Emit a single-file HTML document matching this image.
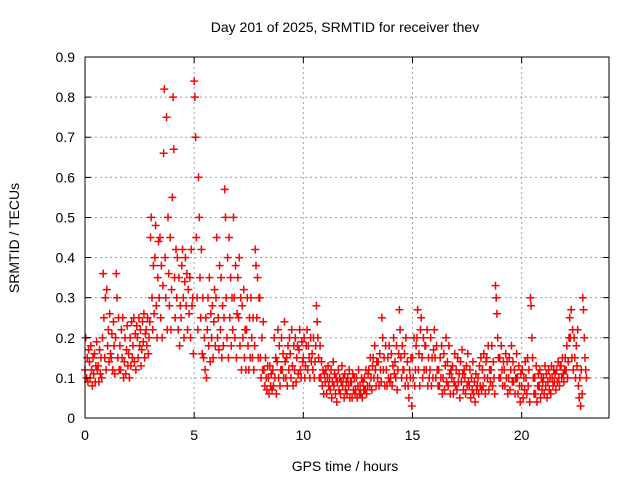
<!DOCTYPE html>
<html><head><meta charset="utf-8"><style>
body{margin:0;background:#fff}
svg{display:block;font-family:"Liberation Sans",sans-serif}
</style></head><body>
<svg id="chart" width="640" height="480">
<rect width="640" height="480" fill="#fff"/>
<g id="grid"></g>
<g id="points"></g>
<rect x="85" y="57" width="524" height="361" fill="none" stroke="#000" stroke-width="1"/>
<g id="ticks"></g>
<text x="345" y="32" text-anchor="middle" font-size="14">Day 201 of 2025, SRMTID for receiver thev</text>
<text x="345" y="471" text-anchor="middle" font-size="14">GPS time / hours</text>
<text x="19" y="238" text-anchor="middle" font-size="14" transform="rotate(-90 19 238)">SRMTID / TECUs</text>
</svg>
<script>
const binHours=[];for(let i=0;i<115;i++)binHours.push(+(i*0.2).toFixed(1));
const xTicks=[0,5,10,15,20];
const yTicks=[0,0.1,0.2,0.3,0.4,0.5,0.6,0.7,0.8,0.9];
const yTickLabels=["0","0.1","0.2","0.3","0.4","0.5","0.6","0.7","0.8","0.9"];
const samples=[
[.12,.2,.1,.15,.09,.17],[.14,.1,.18,.12,.08,.15],[.11,.16,.09,.13,.19,.12],[.13,.09,.17,.11,.15,.1],
[.2,.36,.25,.15,.3,.12],[.32,.18,.22,.14,.26,.16],[.15,.21,.12,.24,.18,.11],[.2,.36,.3,.15,.25,.12],
[.18,.12,.22,.15,.25,.1],[.14,.2,.11,.17,.23,.13],[.16,.1,.2,.13,.24,.15],[.18,.25,.14,.21,.12,.23],
[.2,.15,.25,.18,.22,.13],[.17,.24,.19,.26,.15,.21],[.22,.18,.25,.16,.2,.24],[.45,.5,.3,.22,.38,.26],
[.4,.48,.28,.2,.35,.44],[.3,.45,.25,.38,.2,.33],[.66,.82,.4,.3,.75,.22],[.5,.36,.28,.45,.22,.32],
[.55,.8,.67,.35,.25,.42],[.3,.4,.22,.35,.18,.28],[.25,.38,.42,.3,.2,.34],[.4,.28,.36,.22,.32,.26],
[.35,.2,.42,.28,.3,.16],[.84,.8,.7,.45,.3,.22],[.6,.5,.35,.25,.42,.16],[.3,.15,.2,.12,.25,.1],
[.22,.3,.18,.35,.14,.26],[.2,.28,.15,.24,.32,.18],[.3,.45,.2,.25,.17,.38],[.22,.35,.15,.28,.18,.25],
[.57,.5,.3,.2,.4,.15],[.45,.25,.35,.18,.3,.22],[.5,.3,.2,.38,.15,.26],[.35,.25,.4,.18,.3,.12],
[.28,.2,.32,.15,.22,.12],[.22,.3,.18,.12,.25,.15],[.3,.2,.15,.25,.12,.18],[.42,.38,.25,.35,.15,.3],
[.3,.15,.1,.2,.12,.24],[.12,.08,.15,.1,.07,.13],[.1,.06,.13,.08,.11,.07],[.12,.08,.2,.1,.15,.06],
[.14,.22,.1,.18,.08,.12],[.2,.12,.16,.1,.24,.14],[.1,.15,.08,.18,.12,.2],[.16,.1,.22,.13,.08,.18],
[.12,.2,.09,.15,.18,.11],[.17,.22,.12,.1,.19,.14],[.15,.2,.1,.13,.18,.22],[.12,.18,.15,.1,.2,.14],
[.16,.12,.2,.1,.14,.18],[.28,.24,.2,.15,.1,.18],[.1,.14,.08,.12,.06,.11],[.09,.12,.06,.1,.13,.08],
[.1,.07,.12,.05,.09,.14],[.08,.11,.06,.1,.04,.09],[.12,.07,.1,.06,.09,.13],[.08,.1,.05,.11,.07,.09],
[.06,.1,.08,.12,.05,.09],[.09,.05,.11,.07,.1,.06],[.07,.1,.05,.08,.12,.06],[.08,.06,.1,.05,.09,.07],
[.1,.07,.12,.06,.08,.11],[.12,.08,.15,.1,.07,.13],[.15,.1,.18,.12,.08,.14],[.1,.14,.08,.16,.12,.09],
[.25,.2,.12,.15,.08,.18],[.12,.08,.15,.1,.18,.09],[.1,.16,.08,.13,.2,.11],[.14,.1,.18,.07,.12,.16],
[.27,.22,.15,.1,.18,.12],[.12,.16,.08,.2,.1,.14],[.08,.05,.12,.1,.15,.03],[.15,.1,.2,.08,.12,.18],
[.2,.27,.12,.16,.08,.22],[.25,.15,.1,.2,.12,.18],[.18,.12,.22,.08,.15,.1],[.12,.2,.08,.15,.1,.17],
[.22,.15,.1,.18,.12,.08],[.12,.08,.15,.1,.18,.06],[.1,.16,.07,.13,.2,.09],[.14,.08,.18,.11,.06,.12],
[.1,.13,.06,.09,.16,.08],[.12,.07,.15,.09,.11,.05],[.14,.09,.17,.11,.07,.12],[.1,.06,.13,.08,.16,.09],
[.08,.12,.05,.1,.07,.14],[.06,.09,.04,.11,.07,.08],[.1,.06,.13,.08,.15,.07],[.12,.08,.16,.1,.06,.14],
[.15,.1,.18,.07,.12,.09],[.12,.18,.08,.14,.1,.06],[.33,.3,.26,.2,.15,.1],[.15,.1,.18,.12,.08,.14],
[.12,.08,.16,.1,.14,.06],[.1,.15,.07,.12,.18,.09],[.14,.09,.12,.06,.1,.16],[.1,.06,.13,.08,.04,.11],
[.08,.12,.05,.1,.07,.14],[.1,.06,.15,.08,.12,.04],[.3,.28,.2,.15,.1,.06],[.1,.06,.13,.04,.08,.11],
[.08,.12,.05,.1,.07,.09],[.1,.06,.13,.08,.11,.05],[.09,.12,.07,.1,.06,.13],[.1,.08,.12,.09,.11,.07],
[.12,.09,.14,.1,.08,.13],[.13,.1,.15,.11,.09,.12],[.15,.12,.18,.1,.14,.2],[.25,.2,.27,.15,.22,.12],
[.2,.15,.1,.18,.13,.22],[.08,.05,.1,.03,.12,.06],[.3,.27,.2,.15,.12,.1]
];
const NS="http://www.w3.org/2000/svg";
const X0=85,X1=609,Y0=418,Y1=57,XMAX=24,YMAX=0.9;
function xs(h){return X0+h/XMAX*(X1-X0);}
function ys(v){return Y0-v/YMAX*(Y0-Y1);}
const grid=document.getElementById('grid'),ticks=document.getElementById('ticks'),pts=document.getElementById('points');
function mk(tag,attrs,parent){const e=document.createElementNS(NS,tag);for(const k in attrs)e.setAttribute(k,attrs[k]);parent.appendChild(e);return e;}
yTicks.forEach((v,i)=>{
 const y=ys(v);
 if(i>0&&i<yTicks.length-1){const g=mk('line',{x1:X0,x2:X1,y1:y,y2:y,stroke:'#a0a0a0','stroke-dasharray':'2,3'},grid);
 
 }
 const t=mk('path',{d:`M${X0} ${y}h6M${X1} ${y}h-6`,stroke:'#000'},ticks);
 
 
 const l=mk('text',{x:X0-10,y:y+5,'text-anchor':'end','font-size':'14'},ticks);l.textContent=yTickLabels[i];
 
 
});
xTicks.forEach(h=>{
 const x=xs(h);
 if(h>0){const g=mk('line',{x1:x,x2:x,y1:Y1,y2:Y0,stroke:'#a0a0a0','stroke-dasharray':'2,3'},grid);
 
 }
 const t=mk('path',{d:`M${x} ${Y0}v-6M${x} ${Y1}v6`,stroke:'#000'},ticks);
 
 
 const l=mk('text',{x:x,y:Y0+22,'text-anchor':'middle','font-size':'14'},ticks);l.textContent=String(h);
 
 
});
let d='';
samples.forEach((row,i)=>{
 row.forEach((v,k)=>{
  const x=xs(binHours[i]+k*0.2/row.length),y=ys(v);
  d+=`M${(x-4).toFixed(1)} ${y.toFixed(1)}h8M${x.toFixed(1)} ${(y-4).toFixed(1)}v8`;
 });
});
const p=mk('path',{d:d,stroke:'#ff0000','stroke-width':'1.5',fill:'none'},pts);


</script>
</body></html>
